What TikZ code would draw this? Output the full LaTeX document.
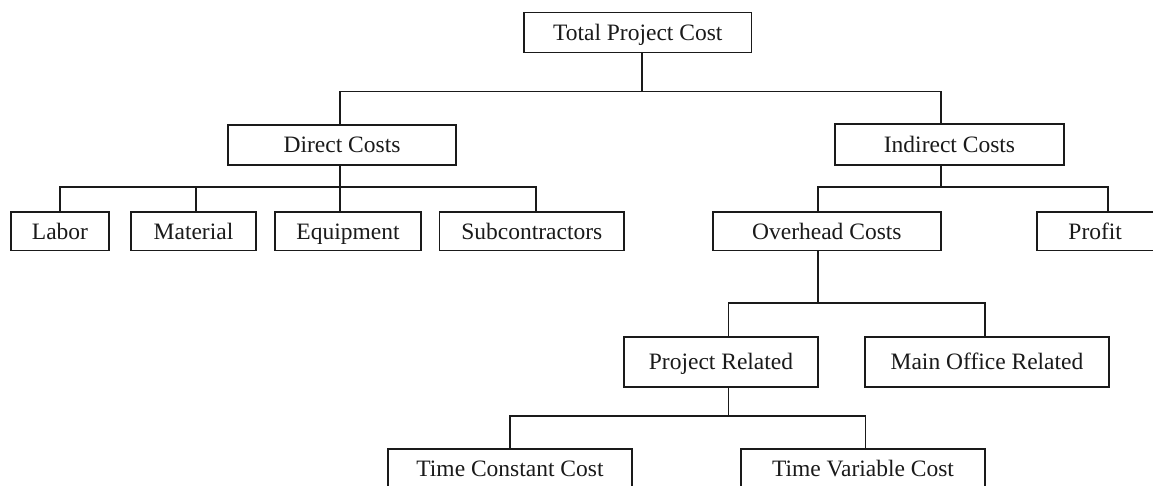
\documentclass[tikz,border=0pt]{standalone}
\usepackage{fontspec}
\setmainfont{Liberation Serif}
\definecolor{ink}{HTML}{1A1A1A}
\tikzset{
  box/.style={draw=ink, line width=1.7pt, fill=white, rectangle, inner sep=0pt,
    text=ink, font=\fontsize{23.5}{28}\selectfont, text height=15.5pt, text depth=0pt},
  conn/.style={draw=ink, line width=1.7pt}
}
\begin{document}
\begin{tikzpicture}[x=1pt, y=-1pt]
\useasboundingbox (0,0) rectangle (1153,486);
\fill[white] (0,0) rectangle (1153,486);
\clip (0,0) rectangle (1153,486);

% nodes
\node[box, minimum width=227.5pt, minimum height=40pt] (total) at (637.75,32.6) {Total Project Cost};
\node[box, minimum width=228pt, minimum height=40pt] (direct) at (342,145) {Direct Costs};
\node[box, minimum width=229pt, minimum height=41pt] (indirect) at (949.5,144.5) {Indirect Costs};
\node[box, minimum width=98.3pt, minimum height=38.5pt] (labor) at (60,231.3) {Labor};
\node[box, minimum width=125pt, minimum height=38.5pt] (material) at (193.5,231.3) {Material};
\node[box, minimum width=146pt, minimum height=38.5pt] (equipment) at (348,231.3) {Equipment};
\node[box, minimum width=184.5pt, minimum height=38.5pt] (subc) at (531.75,231.3) {Subcontractors};
\node[box, minimum width=227.7pt, minimum height=38.5pt] (overhead) at (826.85,231.3) {Overhead Costs};
\node[box, minimum width=117pt, minimum height=38.5pt] (profit) at (1095.2,231.3) {Profit};
\node[box, minimum width=194pt, minimum height=50pt] (projrel) at (721,362) {Project Related};
\node[box, minimum width=244pt, minimum height=50pt] (mainoff) at (987,362) {Main Office Related};
\node[box, minimum width=244pt, minimum height=40pt] (tconst) at (510,469) {Time Constant Cost};
\node[box, minimum width=244pt, minimum height=40pt] (tvar) at (863,469) {Time Variable Cost};

% level 1
\draw[conn] ([xshift=4pt]total.south) -- ++(0,38.1) coordinate (j1);
\draw[conn] ([xshift=-2pt]direct.north) |- (j1) -| ([xshift=-8.8pt]indirect.north);

% direct costs
\draw[conn] ([xshift=-2pt]direct.south) -- ++(0,21) coordinate (j2);
\draw[conn] (labor.north) |- (j2) -| ([xshift=4.25pt]subc.north);
\draw[conn] ([xshift=2.5pt]material.north) -- ([xshift=2.5pt]material.north |- j2);
\draw[conn] ([xshift=-8pt]equipment.north) -- ([xshift=-8pt]equipment.north |- j2);

% indirect costs
\draw[conn] ([xshift=-8.8pt]indirect.south) -- ++(0,21) coordinate (j3);
\draw[conn] ([xshift=-8.85pt]overhead.north) |- (j3) -| ([xshift=12.8pt]profit.north);

% overhead
\draw[conn] ([xshift=-8.85pt]overhead.south) -- ++(0,51.5) coordinate (j4);
\draw[conn] ([xshift=7.6pt]projrel.north) |- (j4) -| ([xshift=-2pt]mainoff.north);

% project related
\draw[conn] ([xshift=7.6pt]projrel.south) -- ++(0,28) coordinate (j5);
\draw[conn] (tconst.north) |- (j5) -| ([xshift=2.6pt]tvar.north);
\end{tikzpicture}
\end{document}
